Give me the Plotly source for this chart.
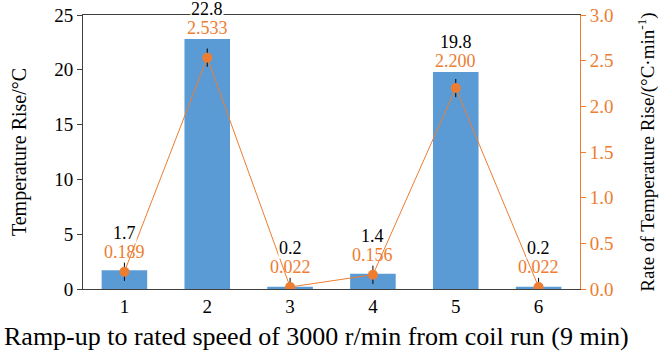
import plotly.graph_objects as go

# Data
stages = [1, 2, 3, 4, 5, 6]
temp_rise = [1.7, 22.8, 0.2, 1.4, 19.8, 0.2]          # °C
rise_rate = [0.189, 2.533, 0.022, 0.156, 2.200, 0.022]  # °C/min
rate_err = [0.1, 0.1, 0.1, 0.1, 0.1, 0.1]
temp_labels = ["1.7", "22.8", "0.2", "1.4", "19.8", "0.2"]
rate_labels = ["0.189", "2.533", "0.022", "0.156", "2.200", "0.022"]
x_title = "Ramp-up to rated speed of 3000 r/min from coil run (9 min)"

BLUE = "#5B9BD5"
ORANGE = "#ED7D31"
DARK = "#404040"
FONT = "Liberation Serif"

Y1_MAX, Y2_MAX = 25, 3.0

fig = go.Figure()

fig.add_trace(go.Bar(
    x=stages, y=temp_rise, width=0.55,
    marker=dict(color=BLUE, line=dict(width=0)),
    yaxis="y", showlegend=False, hoverinfo="skip",
))

fig.add_trace(go.Scatter(
    x=stages, y=rise_rate, yaxis="y2", mode="lines+markers",
    line=dict(color=ORANGE, width=1),
    marker=dict(color=ORANGE, size=10),
    error_y=dict(type="data", array=rate_err, color="black",
                 thickness=1, width=0),
    showlegend=False, hoverinfo="skip",
))

# value labels stacked above the taller of bar / rate marker
annotations = []
for x, t, r, e, tl, rl in zip(stages, temp_rise, rise_rate, rate_err,
                              temp_labels, rate_labels):
    base = max(t, (r + e) * Y1_MAX / Y2_MAX)
    annotations.append(dict(
        x=x, y=base, xref="x", yref="y", text=rl, showarrow=False,
        yanchor="bottom", yshift=-1, font=dict(family=FONT, size=18, color=ORANGE),
    ))
    annotations.append(dict(
        x=x, y=base, xref="x", yref="y", text=tl, showarrow=False,
        yanchor="bottom", yshift=19, bgcolor="white", borderpad=0,
        font=dict(family=FONT, size=18, color="black"),
    ))

# category-axis title, slightly left of the plot centre
annotations.append(dict(
    x=0.47, y=-0.172, xref="paper", yref="paper", text=x_title,
    showarrow=False, xanchor="center", yanchor="middle",
    font=dict(family=FONT, size=26, color="black"),
))

fig.update_layout(
    width=659, height=354,
    margin=dict(l=83, r=79, t=15, b=65, autoexpand=False),
    paper_bgcolor="white", plot_bgcolor="white",
    font=dict(family=FONT, size=19, color="black"),
    annotations=annotations,
    xaxis=dict(
        range=[0.5, 6.5], tickvals=stages, ticktext=[str(s) for s in stages],
        showgrid=False, zeroline=False,
        showline=True, linecolor=DARK, linewidth=1, mirror=True,
        ticks="", tickfont=dict(family=FONT, size=19),
    ),
    yaxis=dict(
        range=[0, Y1_MAX], tickvals=[0, 5, 10, 15, 20, 25],
        showgrid=False, zeroline=False, automargin=False,
        showline=True, linecolor=DARK, linewidth=1,
        ticks="outside", ticklen=5, tickcolor=DARK,
        tickfont=dict(family=FONT, size=19),
        title=dict(text="Temperature Rise/°C", font=dict(family=FONT, size=20),
                   standoff=22),
    ),
    yaxis2=dict(
        range=[0, Y2_MAX], overlaying="y", side="right",
        tickvals=[0, 0.5, 1.0, 1.5, 2.0, 2.5, 3.0], tickformat=".1f",
        showgrid=False, zeroline=False, automargin=False,
        showline=True, linecolor=ORANGE, linewidth=1,
        ticks="outside", ticklen=5, tickcolor=ORANGE,
        tickfont=dict(family=FONT, size=19, color=ORANGE),
        title=dict(text="Rate of Temperature Rise/(°C·min<sup>-1</sup>)",
                   font=dict(family=FONT, size=19, color="black"), standoff=28),
    ),
)

fig.write_html("out.html")
